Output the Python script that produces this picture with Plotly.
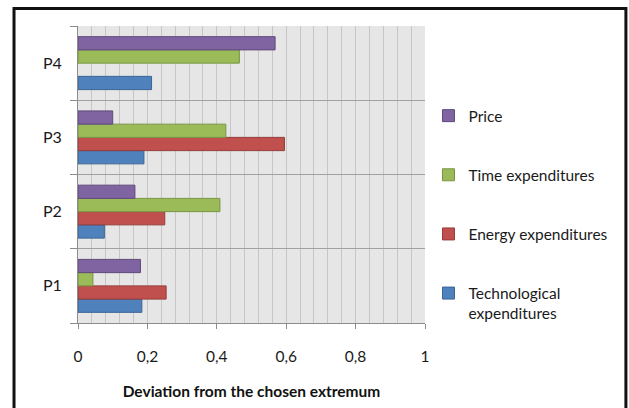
import plotly.graph_objects as go

# Products and deviation values per criterion
products = ["P1", "P2", "P3", "P4"]
technological = [0.184, 0.076, 0.19, 0.212]
energy = [0.254, 0.25, 0.595, None]
time_exp = [0.043, 0.409, 0.426, 0.465]
price = [0.18, 0.164, 0.10, 0.568]

x_tickvals = [0, 0.2, 0.4, 0.6, 0.8, 1.0]
x_ticktext = ["0", "0,2", "0,4", "0,6", "0,8", "1"]

# (legend label, values, fill, outline, legend rank)
series = [
    ("Technological<br>expenditures", technological, "#4F81BD", "#3A6596", 4),
    ("Energy expenditures", energy, "#C0504D", "#973B38", 3),
    ("Time expenditures", time_exp, "#9BBB59", "#789444", 2),
    ("Price", price, "#8064A2", "#5F4A7B", 1),
]

FONT = "Lato, 'Open Sans', sans-serif"

fig = go.Figure()
for i, (name, vals, fill, edge, rank) in enumerate(series):
    fig.add_trace(go.Bar(
        y=products, x=vals, name=name, orientation="h",
        marker=dict(color=fill, line=dict(color=edge, width=1)),
        legendgroup=f"g{i}", legendrank=rank,
    ))

fig.update_layout(
    width=629, height=408,
    margin=dict(l=78, r=204, t=26, b=85, autoexpand=False),
    paper_bgcolor="white",
    plot_bgcolor="#E6E6E6",
    barmode="group",
    bargap=0.287,
    bargroupgap=0,
    font=dict(family=FONT, size=15.5, color="#1a1a1a"),
    showlegend=True,
    legend=dict(
        x=1.010, y=0.754, xanchor="left", yanchor="top",
        traceorder="grouped", tracegroupgap=36,
        bgcolor="rgba(0,0,0,0)", font=dict(family=FONT, size=15.5),
        valign="top", itemwidth=30,
    ),
    xaxis=dict(
        range=[0, 1], tickvals=x_tickvals, ticktext=x_ticktext,
        showgrid=True, gridcolor="#C6C6C6", gridwidth=1,
        minor=dict(dtick=0.04, tick0=0, showgrid=True, gridcolor="#C6C6C6", gridwidth=1, ticks=""),
        ticks="outside", ticklen=5, tickcolor="#8C8C8C",
        showline=True, linecolor="#8C8C8C", linewidth=1,
        zeroline=False, ticklabelstandoff=14,
        tickfont=dict(family=FONT, size=15.5),
        title=dict(text="<b>Deviation from the chosen extremum</b>",
                   font=dict(family=FONT, size=15.5, color="#111"), standoff=22),
    ),
    yaxis=dict(
        type="category", categoryorder="array", categoryarray=products,
        range=[-0.5, 3.5], tickson="boundaries",
        ticks="outside", ticklen=7, tickcolor="#8C8C8C",
        showgrid=True, gridcolor="#A0A0A0", gridwidth=1,
        showline=True, linecolor="#8C8C8C", linewidth=1,
        ticklabelstandoff=12, tickfont=dict(family=FONT, size=16),
    ),
)

# Frame around the whole chart
fig.add_shape(type="rect", xref="paper", yref="paper",
              x0=-0.1844, x1=1.579, y0=-0.31, y1=1.059,
              line=dict(color="#111", width=3), fillcolor="rgba(0,0,0,0)",
              layer="above")

fig.write_html("out.html")
